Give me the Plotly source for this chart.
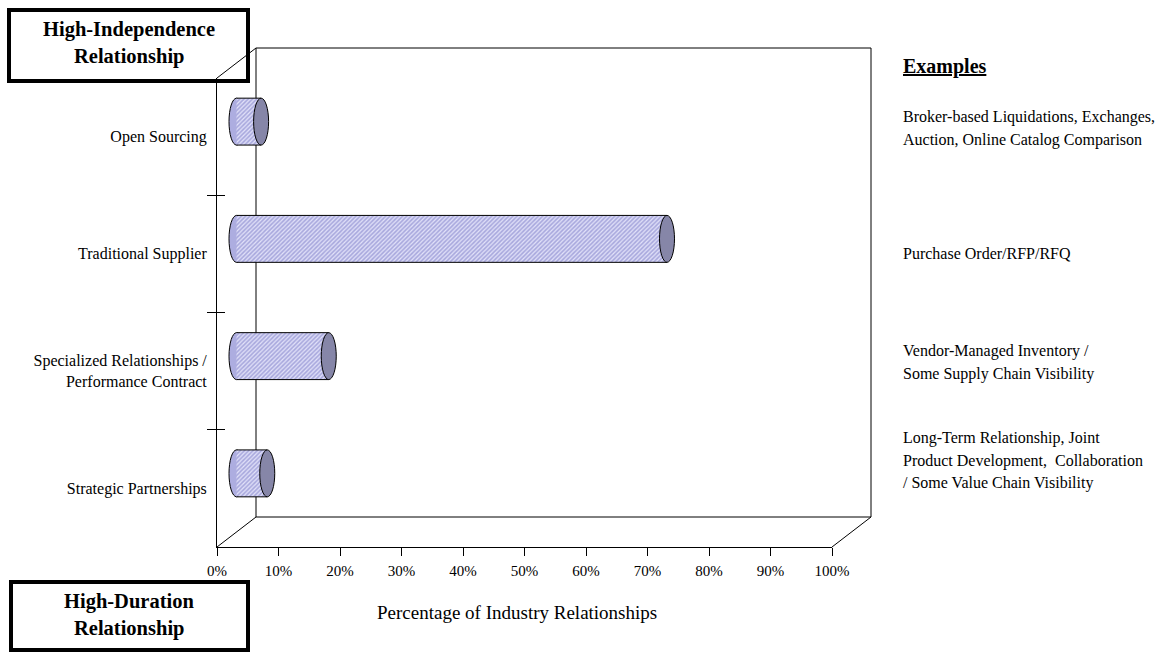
import plotly.graph_objects as go

# ---------------- data ----------------
categories = [
    "Open Sourcing",
    "Traditional Supplier",
    "Specialized Relationships /<br>Performance Contract",
    "Strategic Partnerships",
]
values = [4, 70, 15, 5]
x_ticks = [0, 10, 20, 30, 40, 50, 60, 70, 80, 90, 100]
x_title = "Percentage of Industry Relationships"
examples_header = "Examples"
examples = [
    ["Broker-based Liquidations, Exchanges,", "Auction, Online Catalog Comparison"],
    ["Purchase Order/RFP/RFQ"],
    ["Vendor-Managed Inventory /", "Some Supply Chain Visibility"],
    ["Long-Term Relationship, Joint", "Product Development,  Collaboration", "/ Some Value Chain Visibility"],
]
top_box = ["High-Independence", "Relationship"]
bottom_box = ["High-Duration", "Relationship"]

# ---------------- geometry (pixels) ----------------
W, H = 1161, 652
FONT = "Liberation Serif"


def fx(p):
    return p / W


def fy(p):
    return 1 - p / H


FL, FR, FT, FB = 217, 832, 78, 547       # front plane
DX, DY = 39, 30                          # depth offset of back wall
MX, MY = DX / 2, DY / 2                  # bars sit at mid depth
PX_PER = (FR - FL) / 100.0
X2_MIN, X2_MAX = -5, 102
BAR_W = 0.40
CAP_RX = 7.5 / PX_PER

n = len(categories)
idx = list(range(n))

fig = go.Figure()

# dummy traces so the frame axes exist
fig.add_trace(go.Scatter(x=[None], y=[None], xaxis="x", yaxis="y", showlegend=False, hoverinfo="skip"))
fig.add_trace(go.Scatter(x=[None], y=[None], xaxis="x", yaxis="y3", showlegend=False, hoverinfo="skip"))
fig.add_trace(go.Scatter(x=[None], y=[None], xaxis="x", yaxis="y4", showlegend=False, hoverinfo="skip"))

# cylinders (bars)
fig.add_trace(go.Bar(
    x=values, y=idx, orientation="h", width=BAR_W,
    xaxis="x2", yaxis="y2", showlegend=False,
    marker=dict(
        color="#b4b4e4",
        line=dict(width=0),
        pattern=dict(shape="/", bgcolor="#aaaade", fgcolor="#e4e4fa", size=3, solidity=0.4, fillmode="replace"),
    ),
))

shapes = []
# annotation boxes (under the frame)
shapes.append(dict(type="rect", xref="paper", yref="paper", x0=fx(9), x1=fx(248), y0=fy(10), y1=fy(81),
                   line=dict(color="black", width=4), fillcolor="white", layer="below"))
shapes.append(dict(type="rect", xref="paper", yref="paper", x0=fx(11), x1=fx(248), y0=fy(582), y1=fy(650),
                   line=dict(color="black", width=4), fillcolor="white", layer="below"))

# 3-D frame lines
def seg(x0, y0, x1, y1):
    return dict(type="line", xref="paper", yref="paper", x0=fx(x0), y0=fy(y0), x1=fx(x1), y1=fy(y1),
                line=dict(color="black", width=1), layer="below")

BL, BR, BT, BB = FL + DX, FR + DX, FT - DY, FB - DY
shapes += [
    seg(FL, FT, BL, BT),
    seg(FL, FB, BL, BB),
    seg(FR, FB, BR, BB),
    seg(BL, BT, BR, BT),
    seg(BR, BT, BR, BB),
    seg(BL, BT, BL, BB),
    seg(BL, BB, BR, BB),
]

# cylinder end caps and outlines, derived from the values
for i, v in zip(idx, values):
    shapes.append(dict(type="circle", xref="x2", yref="y2", x0=-CAP_RX, x1=CAP_RX,
                       y0=i - BAR_W / 2, y1=i + BAR_W / 2, fillcolor="#adade0",
                       line=dict(color="black", width=1), layer="below"))
    shapes.append(dict(type="line", xref="x2", yref="y2", x0=0, x1=v, y0=i - BAR_W / 2, y1=i - BAR_W / 2,
                       line=dict(color="black", width=1), layer="above"))
    shapes.append(dict(type="line", xref="x2", yref="y2", x0=0, x1=v, y0=i + BAR_W / 2, y1=i + BAR_W / 2,
                       line=dict(color="black", width=1), layer="above"))
    shapes.append(dict(type="circle", xref="x2", yref="y2", x0=v - CAP_RX, x1=v + CAP_RX,
                       y0=i - BAR_W / 2, y1=i + BAR_W / 2, fillcolor="#8686a8",
                       line=dict(color="black", width=1), layer="above"))

annotations = []
# box texts
for txt, yy in zip(top_box, [29.5, 56.5]):
    annotations.append(dict(text="<b>%s</b>" % txt, x=fx(129), y=fy(yy), xref="paper", yref="paper",
                            xanchor="center", yanchor="middle", showarrow=False,
                            font=dict(family=FONT, size=20.5, color="black")))
for txt, yy in zip(bottom_box, [601, 628]):
    annotations.append(dict(text="<b>%s</b>" % txt, x=fx(129), y=fy(yy), xref="paper", yref="paper",
                            xanchor="center", yanchor="middle", showarrow=False,
                            font=dict(family=FONT, size=20.5, color="black")))

# examples column
annotations.append(dict(text="<b><u>%s</u></b>" % examples_header, x=fx(901), y=fy(67), xref="paper", yref="paper",
                        xanchor="left", yanchor="middle", showarrow=False,
                        font=dict(family=FONT, size=20, color="black")))
group_tops = [117, 254, 351, 438]
LINE = 22.5
for lines, top in zip(examples, group_tops):
    for k, ln in enumerate(lines):
        annotations.append(dict(text=ln, x=fx(901), y=fy(top + k * LINE), xref="paper", yref="paper",
                                xanchor="left", yanchor="middle", showarrow=False,
                                font=dict(family=FONT, size=16, color="black")))

# axis title
annotations.append(dict(text=x_title, x=fx(517), y=fy(612), xref="paper", yref="paper",
                        xanchor="center", yanchor="middle", showarrow=False,
                        font=dict(family=FONT, size=19, color="black")))

fig.update_layout(
    width=W, height=H,
    margin=dict(l=0, r=0, t=0, b=0, autoexpand=False),
    paper_bgcolor="white",
    plot_bgcolor="rgba(0,0,0,0)",
    showlegend=False,
    font=dict(family=FONT, color="black"),
    xaxis=dict(
        domain=[fx(FL), fx(FR)], range=[0, 100], anchor="y",
        tickmode="array", tickvals=x_ticks, ticktext=["%d%%" % t for t in x_ticks],
        ticks="outside", ticklen=8, tickcolor="black", tickwidth=1,
        showline=True, linecolor="black", linewidth=1,
        showgrid=False, zeroline=False, fixedrange=True,
        tickfont=dict(family=FONT, size=15, color="black"),
        ticklabelstandoff=2,
    ),
    yaxis=dict(
        domain=[fy(FB), fy(FT)], range=[n - 0.5, -0.5], anchor="x",
        tickmode="array", tickvals=idx, ticktext=categories,
        ticks="", showline=True, linecolor="black", linewidth=1,
        showgrid=False, zeroline=False, fixedrange=True,
        tickfont=dict(family=FONT, size=16, color="black"),
        ticklabelstandoff=6,
    ),
    yaxis3=dict(
        domain=[fy(FB), fy(FT)], range=[n - 0.5, -0.5], anchor="x", overlaying="y",
        tickmode="array", tickvals=[i + 0.5 for i in idx[:-1]],
        ticks="outside", ticklen=9, tickcolor="black", showticklabels=False,
        showline=False, showgrid=False, zeroline=False,
    ),
    yaxis4=dict(
        domain=[fy(FB), fy(FT)], range=[n - 0.5, -0.5], anchor="x", overlaying="y",
        tickmode="array", tickvals=[i + 0.5 for i in idx[:-1]],
        ticks="inside", ticklen=8, tickcolor="black", showticklabels=False,
        showline=False, showgrid=False, zeroline=False,
    ),
    xaxis2=dict(
        domain=[fx(FL + MX + X2_MIN * PX_PER), fx(FL + MX + X2_MAX * PX_PER)],
        range=[X2_MIN, X2_MAX], anchor="y2", visible=False, fixedrange=True,
    ),
    yaxis2=dict(
        domain=[fy(FB - MY), fy(FT - MY)], range=[n - 0.5, -0.5], anchor="x2",
        visible=False, fixedrange=True,
    ),
    shapes=shapes,
    annotations=annotations,
)

fig.write_html("out.html")
